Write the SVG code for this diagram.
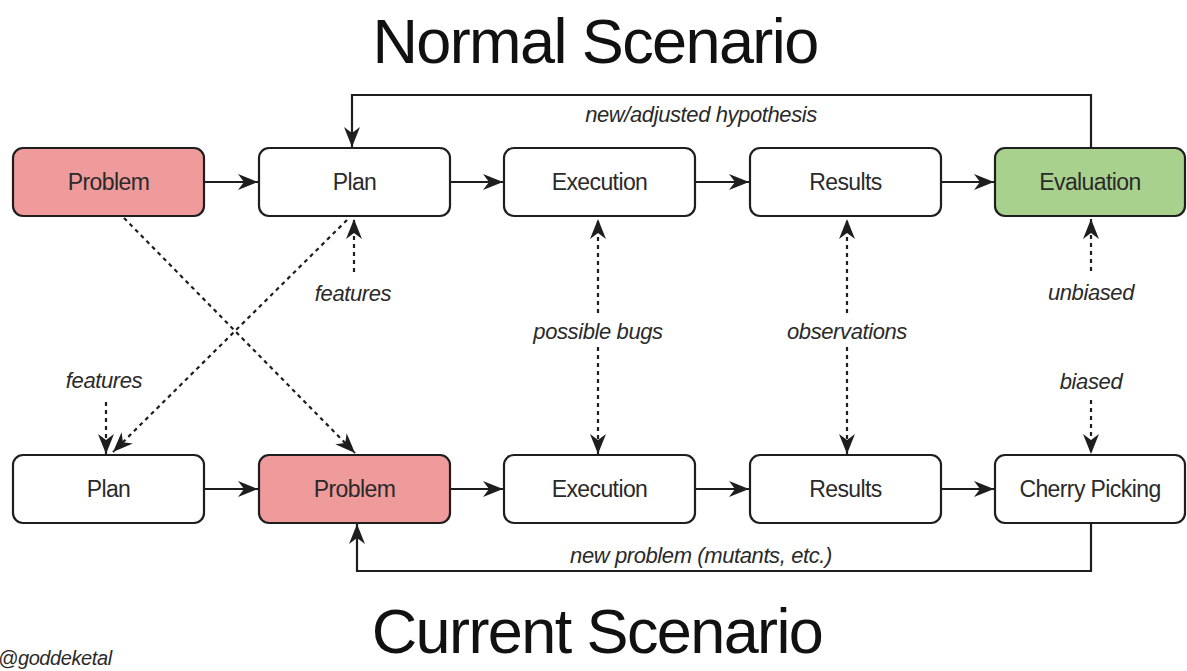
<svg xmlns="http://www.w3.org/2000/svg" width="1187" height="671" viewBox="0 0 1187 671">
<style>
.box{fill:#ffffff;stroke:#1e1e1e;stroke-width:2.2}
.red{fill:#ef9a9b}
.green{fill:#a9d18e}
.lbl{font-family:"Liberation Sans",Arial,sans-serif;font-size:23px;fill:#2a2a2a;text-anchor:middle;letter-spacing:-0.6px}
.it{font-family:"Liberation Sans",Arial,sans-serif;font-style:italic;font-size:22px;fill:#2a2a2a;text-anchor:middle;letter-spacing:-0.4px}
.title{font-family:"Liberation Sans",Arial,sans-serif;font-size:63px;fill:#111;text-anchor:middle;letter-spacing:-1.6px}
.solid{fill:none;stroke:#1e1e1e;stroke-width:2.2}
.dash{fill:none;stroke:#1e1e1e;stroke-width:2.2;stroke-dasharray:4 4}
</style>
<defs>
<marker id="ah" viewBox="0 0 20 16" refX="20" refY="8" markerWidth="20" markerHeight="16" markerUnits="userSpaceOnUse" orient="auto-start-reverse">
<path d="M0,0 L20,8 L0,16 L6,8 z" fill="#1e1e1e"/>
</marker>
</defs>
<rect width="1187" height="671" fill="#ffffff"/>

<text class="title" x="595" y="63">Normal Scenario</text>
<text class="title" x="597" y="653">Current Scenario</text>
<text class="it" x="-2" y="665" style="text-anchor:start;font-size:20px">@goddeketal</text>

<g id="connectors">
  <line class="solid" x1="204" y1="182" x2="258" y2="182" marker-end="url(#ah)"/>
  <line class="solid" x1="450" y1="182" x2="503" y2="182" marker-end="url(#ah)"/>
  <line class="solid" x1="695" y1="182" x2="749" y2="182" marker-end="url(#ah)"/>
  <line class="solid" x1="941" y1="182" x2="994" y2="182" marker-end="url(#ah)"/>
  <line class="solid" x1="204" y1="489" x2="258" y2="489" marker-end="url(#ah)"/>
  <line class="solid" x1="450" y1="489" x2="503" y2="489" marker-end="url(#ah)"/>
  <line class="solid" x1="695" y1="489" x2="749" y2="489" marker-end="url(#ah)"/>
  <line class="solid" x1="941" y1="489" x2="994" y2="489" marker-end="url(#ah)"/>
  <polyline class="solid" points="1091,148 1091,95 352,95 352,147" marker-end="url(#ah)"/>
  <text class="it" x="701" y="122">new/adjusted hypothesis</text>
  <polyline class="solid" points="1091,523 1091,571 357,571 357,524" marker-end="url(#ah)"/>
  <text class="it" x="701" y="563">new problem (mutants, etc.)</text>
  <line class="dash" x1="124" y1="218" x2="355" y2="453" marker-end="url(#ah)"/>
  <line class="dash" x1="347" y1="220" x2="113" y2="452" marker-end="url(#ah)"/>
  <line class="dash" x1="354" y1="272" x2="354" y2="219" marker-end="url(#ah)"/>
  <text class="it" x="353" y="301">features</text>
  <line class="dash" x1="106" y1="402" x2="106" y2="454" marker-end="url(#ah)"/>
  <text class="it" x="104" y="388">features</text>
  <line class="dash" x1="598" y1="313" x2="598" y2="219" marker-end="url(#ah)"/>
  <line class="dash" x1="598" y1="347" x2="598" y2="454" marker-end="url(#ah)"/>
  <text class="it" x="598" y="339">possible bugs</text>
  <line class="dash" x1="847" y1="313" x2="847" y2="219" marker-end="url(#ah)"/>
  <line class="dash" x1="847" y1="347" x2="847" y2="454" marker-end="url(#ah)"/>
  <text class="it" x="847" y="339">observations</text>
  <line class="dash" x1="1091" y1="271" x2="1091" y2="219" marker-end="url(#ah)"/>
  <text class="it" x="1091" y="300">unbiased</text>
  <line class="dash" x1="1091" y1="400" x2="1091" y2="454" marker-end="url(#ah)"/>
  <text class="it" x="1091" y="389">biased</text>
</g>

<g id="n-problem-top"><rect class="box red" x="13" y="148" width="191" height="68" rx="10"/><text class="lbl" x="108.5" y="190">Problem</text></g>
<g id="n-plan-top"><rect class="box" x="259" y="148" width="191" height="68" rx="10"/><text class="lbl" x="354.5" y="190">Plan</text></g>
<g id="n-execution-top"><rect class="box" x="504" y="148" width="191" height="68" rx="10"/><text class="lbl" x="599.5" y="190">Execution</text></g>
<g id="n-results-top"><rect class="box" x="750" y="148" width="191" height="68" rx="10"/><text class="lbl" x="845.5" y="190">Results</text></g>
<g id="n-evaluation"><rect class="box green" x="995" y="148" width="190" height="68" rx="10"/><text class="lbl" x="1090" y="190">Evaluation</text></g>

<g id="n-plan-bottom"><rect class="box" x="13" y="455" width="191" height="68" rx="10"/><text class="lbl" x="108.5" y="497">Plan</text></g>
<g id="n-problem-bottom"><rect class="box red" x="259" y="455" width="191" height="68" rx="10"/><text class="lbl" x="354.5" y="497">Problem</text></g>
<g id="n-execution-bottom"><rect class="box" x="504" y="455" width="191" height="68" rx="10"/><text class="lbl" x="599.5" y="497">Execution</text></g>
<g id="n-results-bottom"><rect class="box" x="750" y="455" width="191" height="68" rx="10"/><text class="lbl" x="845.5" y="497">Results</text></g>
<g id="n-cherry"><rect class="box" x="995" y="455" width="190" height="68" rx="10"/><text class="lbl" x="1090" y="497">Cherry Picking</text></g>
</svg>
